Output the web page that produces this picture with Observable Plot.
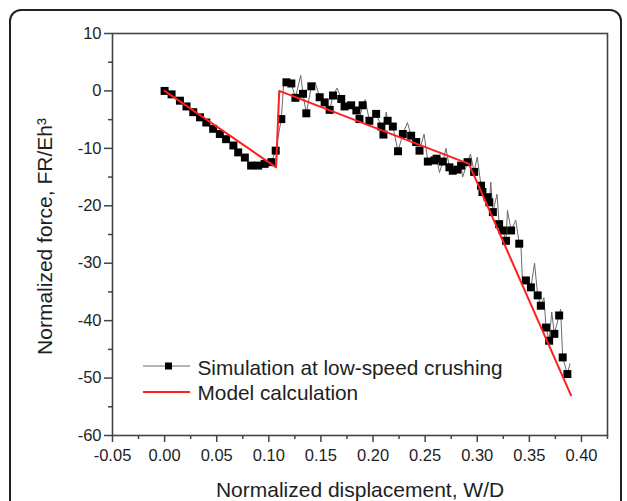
<!DOCTYPE html>
<html>
<head>
<meta charset="utf-8">
<script src="https://cdn.jsdelivr.net/npm/d3@7"></script>
<script src="https://cdn.jsdelivr.net/npm/@observablehq/plot@0.6"></script>
<style>
  html, body { margin: 0; padding: 0; background: #fff; overflow: hidden; }
  #wrap { position: relative; width: 627px; height: 501px; }
  #border { position: absolute; left: 9px; top: 9px; width: 613px; height: 520px;
            border: 2px solid #222; border-radius: 12px; box-sizing: border-box; pointer-events: none; }
  #chart { position: absolute; left: 0; top: 0; }
</style>
</head>
<body>
<div id="wrap"><div id="chart"></div><div id="border"></div></div>
<script>
// Simulation at low-speed crushing (marker points)
const simX = [0.000,0.0067,0.0147,0.021,0.0275,0.034,0.040,0.0466,0.053,0.059,0.066,0.0706,0.077,0.083,0.0898,0.096,0.1025,0.1066,0.112,0.1169,0.1216,0.1255,0.1328,0.136,0.1408,0.1488,0.1536,0.1584,0.1616,0.1695,0.1727,0.179,0.184,0.187,0.190,0.1965,0.203,0.208,0.210,0.214,0.219,0.224,0.2286,0.2366,0.2414,0.2446,0.2526,0.259,0.261,0.267,0.2733,0.2765,0.281,0.2845,0.2907,0.297,0.3036,0.305,0.310,0.3116,0.315,0.321,0.3245,0.3276,0.3325,0.3403,0.3467,0.3515,0.358,0.361,0.366,0.369,0.374,0.3786,0.382,0.3865];
const simY = [0,-0.6,-1.7,-2.7,-3.7,-4.6,-5.5,-6.6,-7.5,-8.4,-9.5,-10.7,-11.6,-13.0,-13.0,-12.7,-12.4,-10.4,-4.9,1.5,1.3,-1.2,-0.5,-3.9,0.8,-1.1,-2.0,-3.3,-0.8,-1.4,-2.7,-2.5,-3.4,-4.9,-2.5,-5.2,-4.0,-6.2,-7.6,-5.2,-6.2,-10.5,-7.5,-7.8,-8.9,-10.4,-12.3,-12.1,-11.8,-12.3,-13.3,-13.9,-13.7,-13.0,-12.4,-14.1,-16.5,-17.6,-18.5,-19.4,-21.1,-23.2,-24.3,-26.1,-24.3,-26.6,-33.0,-34.2,-35.6,-37.4,-41.2,-43.5,-42.3,-39.1,-46.4,-49.3];
// extra vertices of the thin simulation trace (spikes between markers)
const spikeX = [0.1145,0.1306,0.1445,0.1655,0.1925,0.2126,0.2330,0.2490,0.2638,0.2700,0.2860,0.2935,0.3000,0.3130,0.3190,0.3290,0.3370,0.3420,0.3435,0.3550,0.3640,0.3715,0.3800,0.3890];
const spikeY = [2.0,2.7,1.5,0.5,-1.5,-3.7,-5.5,-7.5,-14.2,-10.0,-15.0,-11.0,-11.5,-15.9,-18.0,-20.8,-22.5,-27.2,-33.6,-30.0,-36.0,-38.5,-38.0,-47.5];
// Model calculation
const modelX = [0, 0.107, 0.110, 0.292, 0.390];
const modelY = [0, -13.3, 0, -12.7, -53];
// Axis ticks
const xTicks = [-0.05,0,0.05,0.10,0.15,0.20,0.25,0.30,0.35,0.40];
const xMinor = [-0.025,0.025,0.075,0.125,0.175,0.225,0.275,0.325,0.375,0.425];
const yTicks = [-60,-50,-40,-30,-20,-10,0,10];
const yMinor = [-55,-45,-35,-25,-15,-5,5];

const sim = simX.map((x, i) => ({x, y: simY[i]}));
const trace = sim.concat(spikeX.map((x, i) => ({x, y: spikeY[i]}))).sort((a, b) => a.x - b.x);
const model = modelX.map((x, i) => ({x, y: modelY[i]}));

const font = "'Liberation Sans', Arial, sans-serif";
const ink = "#1e1e1e";
const plot = Plot.plot({
  width: 627, height: 501,
  marginLeft: 112, marginTop: 33, marginRight: 20, marginBottom: 66,
  x: {domain: [-0.05, 0.425]},
  y: {domain: [-60, 10]},
  style: {fontFamily: font, color: ink, background: "transparent"},
  marks: [
    Plot.axisX({ticks: xTicks, tickSize: 7, tickPadding: 7, fontSize: 16.5, tickFormat: d => d.toFixed(2), label: null, stroke: "#444", strokeWidth: 1.5}),
    Plot.axisX({ticks: xMinor, tickSize: 4, text: null, label: null, stroke: "#444", strokeWidth: 1.5}),
    Plot.axisY({ticks: yTicks, tickSize: 8, tickPadding: 3, fontSize: 16.5, tickFormat: d => String(d), label: null, stroke: "#444", strokeWidth: 1.5}),
    Plot.axisY({ticks: yMinor, tickSize: 4, text: null, label: null, stroke: "#444", strokeWidth: 1.5}),
    Plot.frame({stroke: "#444", strokeWidth: 1.6}),
    Plot.line(trace, {x: "x", y: "y", stroke: "#6a6a6a", strokeWidth: 1}),
    Plot.dot(sim, {x: "x", y: "y", symbol: "square", r: 4.5, fill: "#000", stroke: "none"}),
    Plot.line(model, {x: "x", y: "y", stroke: "#ff1f1f", strokeWidth: 2}),
    Plot.text(["Normalized displacement, W/D"], {frameAnchor: "bottom", textAnchor: "middle", lineAnchor: "middle", dx: 0, dy: 55, fontSize: 21, fill: ink}),
    Plot.text(["Normalized force, FR/Eh³"], {frameAnchor: "left", textAnchor: "middle", lineAnchor: "middle", dx: -67, dy: 2, rotate: -90, fontSize: 21, fill: ink}),
    Plot.text(["Simulation at low-speed crushing"], {frameAnchor: "top-left", textAnchor: "start", lineAnchor: "middle", dx: 85, dy: 335, fontSize: 20.8, fill: ink}),
    Plot.text(["Model calculation"], {frameAnchor: "top-left", textAnchor: "start", lineAnchor: "middle", dx: 85, dy: 360, fontSize: 20.8, fill: ink})
  ]
});
// legend samples
const svg = d3.select(plot);
const lg = svg.append("g");
lg.append("line").attr("x1", 143).attr("x2", 190).attr("y1", 366).attr("y2", 366).attr("stroke", "#6a6a6a").attr("stroke-width", 1);
lg.append("rect").attr("x", 165).attr("y", 362.5).attr("width", 7).attr("height", 7).attr("fill", "#000");
lg.append("line").attr("x1", 143).attr("x2", 190).attr("y1", 392).attr("y2", 392).attr("stroke", "#ff1f1f").attr("stroke-width", 2);
document.getElementById("chart").appendChild(plot);
</script>
</body>
</html>
